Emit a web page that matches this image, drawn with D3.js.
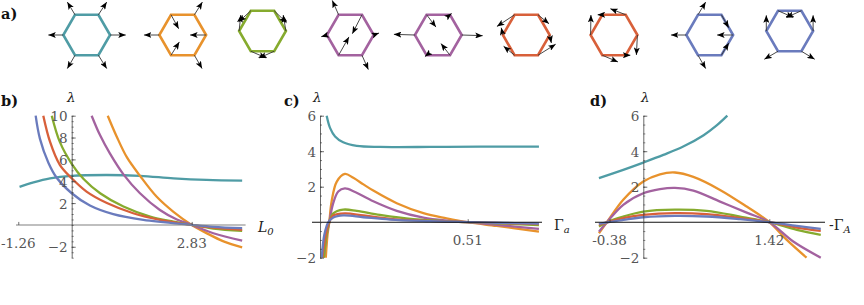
<!DOCTYPE html>
<html>
<head>
<meta charset="utf-8">
<script src="https://cdn.jsdelivr.net/npm/d3@7"></script>
<style>
  html, body { margin: 0; padding: 0; background: #fff; }
  text { font-family: "DejaVu Serif", serif; }
  .tick-label { font-size: 13.5px; fill: #555; }
  .panel-label { font-size: 14.5px; font-weight: bold; fill: #111; }
  .axis-label { font-size: 13.5px; fill: #222; font-style: italic; }
</style>
</head>
<body>
<svg id="chart" width="864" height="305"></svg>
<script>
const colors = {
  teal: "#4f9ca5", orange: "#e8922c", green: "#86ab2e",
  red: "#d8603a", purple: "#a3629f", blue: "#6a7bbd"
};

// hexagon modes: one [dx, dy] per corner, order E NE NW W SW SE
const hexColors = ["teal", "orange", "green", "purple", "purple", "red", "red", "blue", "blue"];
const hexCenterX = [86.7, 182.7, 262.5, 350.3, 438.3, 526.3, 614, 709.7, 789.7];
const hexCenterY = [35, 35, 31, 35, 35, 35, 35, 35, 31];
const hexVectors = [
  [[47, 0], [25, -38], [-23, -38], [-45, 0], [-23, 40], [25, 40]],
  [[-48, 0], [24, -38], [23, 42], [-46, 0], [25, -40], [23, 40]],
  [[-8, -48], [37, 36], [-36, 33], [5, -48], [46, 20], [-45, 20]],
  [[16, -6], [-29, 57], [-19, -43], [-17, 5], [31, -55], [19, 43]],
  [[63, 2], [5, -4], [28, 37], [-63, -2], [-5, 4], [-27, -35]],
  [[5, 24], [33, 27], [-53, 35], [-5, -22], [-33, -27], [53, -33]],
  [[-3, 60], [-46, -18], [-14, 0], [1, -60], [47, 20], [14, 0]],
  [[-48, 0], [22, 39], [23, -38], [-46, 0], [23, 40], [22, -37]],
  [[0, -47], [-45, 20], [46, 20], [0, -47], [-41, 24], [40, 24]]
];

// panel b, lambda vs L0
const bTicksY = [-2, 2, 4, 6, 8, 10];
const bTeal = [[-1.23, 3.48], [-0.9, 3.9], [-0.51, 4.27], [0, 4.5], [0.83, 4.57], [1.61, 4.5], [2.4, 4.27], [3.18, 4.12], [4.02, 4.05]];
const bOrange = [[0.85, 10], [1.06, 8.1], [1.3, 6.2], [1.61, 4.5], [2.0, 2.6], [2.4, 1.2], [2.83, 0], [3.18, -0.75], [3.58, -1.5], [4.02, -2.05]];
const bPurple = [[0.47, 10], [0.67, 8.2], [0.9, 6.55], [1.22, 4.63], [1.61, 2.9], [2.08, 1.37], [2.48, 0.5], [2.83, 0], [3.34, -0.76], [4.02, -1.43]];
const bGreen = [[-0.47, 10], [-0.28, 7.6], [0, 5.6], [0.28, 4.2], [0.67, 2.9], [1.22, 1.68], [1.85, 0.76], [2.4, 0.3], [2.83, 0], [3.34, -0.33], [4.02, -0.55]];
const bRed = [[-0.67, 10], [-0.51, 7.6], [-0.28, 5.5], [0, 4.27], [0.35, 3.05], [0.83, 2.0], [1.45, 1.07], [2.08, 0.46], [2.83, 0], [3.34, -0.25], [4.02, -0.45]];
const bBlue = [[-0.85, 10], [-0.75, 7.9], [-0.55, 5.7], [-0.35, 4.3], [0, 2.9], [0.43, 1.77], [0.98, 0.98], [1.69, 0.46], [2.83, 0], [3.34, -0.18], [4.02, -0.3]];

// panel c, lambda vs Gamma_a
const cTicksY = [-2, 2, 4, 6];
const cTeal = [[0.023, 6], [0.035, 5.3], [0.052, 4.83], [0.08, 4.5], [0.127, 4.3], [0.207, 4.24], [0.38, 4.24], [0.553, 4.26], [0.756, 4.26]];
const cOrange = [[0.02, -2], [0.026, -0.71], [0.032, 0], [0.04, 1.16], [0.058, 2.29], [0.086, 2.72], [0.115, 2.5], [0.15, 2.13], [0.184, 1.78], [0.265, 1.07], [0.357, 0.51], [0.437, 0.22], [0.51, 0], [0.61, -0.21], [0.756, -0.53]];
const cPurple = [[0.013, -2], [0.023, -0.71], [0.032, 0], [0.044, 0.98], [0.063, 1.73], [0.086, 1.9], [0.121, 1.7], [0.184, 1.18], [0.265, 0.64], [0.357, 0.26], [0.437, 0.09], [0.51, 0], [0.61, -0.15], [0.756, -0.38]];
const cGreen = [[0.013, -2], [0.023, -0.71], [0.032, 0], [0.046, 0.5], [0.08, 0.71], [0.127, 0.64], [0.207, 0.41], [0.322, 0.17], [0.51, 0], [0.61, -0.06], [0.756, -0.17]];
const cRed = [[0.008, -2], [0.02, -0.71], [0.031, 0], [0.046, 0.38], [0.086, 0.5], [0.15, 0.38], [0.242, 0.19], [0.38, 0.07], [0.51, 0], [0.61, -0.04], [0.756, -0.11]];
const cBlue = [[0.006, -2], [0.015, -0.71], [0.029, 0], [0.046, 0.26], [0.08, 0.38], [0.15, 0.28], [0.242, 0.15], [0.38, 0.06], [0.51, 0], [0.61, -0.03], [0.756, -0.08]];

// panel d, lambda vs -Gamma_A
const dTicksY = [-2, 2, 4, 6];
const dTeal = [[-0.5, 2.48], [-0.226, 2.95], [0, 3.36], [0.226, 3.79], [0.45, 4.26], [0.68, 4.9], [0.827, 5.45], [0.947, 6]];
const dOrange = [[-0.5, -0.62], [-0.41, 0], [-0.226, 1.26], [0, 2.29], [0.188, 2.7], [0.357, 2.8], [0.564, 2.55], [0.865, 1.82], [1.165, 0.88], [1.42, 0], [1.617, -1], [1.84, -2]];
const dPurple = [[-0.5, -0.53], [-0.41, 0], [-0.226, 0.98], [0, 1.63], [0.188, 1.86], [0.357, 1.93], [0.564, 1.78], [0.865, 1.16], [1.165, 0.54], [1.42, 0], [1.69, -1.09], [2, -2]];
const dGreen = [[-0.5, -0.24], [-0.39, 0.04], [-0.226, 0.32], [0, 0.6], [0.357, 0.71], [0.714, 0.64], [1.09, 0.32], [1.42, 0], [1.73, -0.43], [2, -0.71]];
const dRed = [[-0.5, -0.15], [-0.39, 0.02], [-0.226, 0.23], [0, 0.41], [0.357, 0.51], [0.714, 0.45], [1.09, 0.23], [1.42, 0], [1.73, -0.3], [2, -0.49]];
const dBlue = [[-0.5, -0.09], [-0.39, 0.01], [-0.226, 0.13], [0, 0.28], [0.357, 0.36], [0.714, 0.32], [1.09, 0.17], [1.42, 0], [1.73, -0.21], [2, -0.38]];

const svg = d3.select("#chart");

svg.append("defs").append("marker")
  .attr("id", "head")
  .attr("viewBox", "0 0 10 8")
  .attr("refX", 10).attr("refY", 4)
  .attr("markerUnits", "userSpaceOnUse")
  .attr("markerWidth", 7.5).attr("markerHeight", 6)
  .attr("orient", "auto")
  .append("path")
  .attr("d", "M0,0L10,4L0,8L2.2,4Z")
  .attr("fill", "#000");

// --- panel a: hexagons ---
const cornerAngles = [0, 60, 120, 180, 240, 300];
const hexR = d3.scaleLinear().domain([0, 1]).range([0, 23.4]);
const arrowLen = d3.scaleLinear().domain([0, 3]).range([0, 1]); // vectors were read at 3x

hexVectors.forEach(function(vecs, i) {
  const g = svg.append("g")
    .attr("transform", "translate(" + hexCenterX[i] + "," + hexCenterY[i] + ")");
  const corners = cornerAngles.map(function(a) {
    return [hexR(Math.cos(a * Math.PI / 180)), -hexR(Math.sin(a * Math.PI / 180))];
  });
  g.append("path")
    .attr("d", d3.line().curve(d3.curveLinearClosed)(corners))
    .attr("fill", "none")
    .attr("stroke", colors[hexColors[i]])
    .attr("stroke-width", 2.6)
    .attr("stroke-linejoin", "miter");
  g.selectAll("line.arrow")
    .data(vecs)
    .enter()
    .append("line")
    .attr("class", "arrow")
    .attr("x1", function(d, k) { return corners[k][0]; })
    .attr("y1", function(d, k) { return corners[k][1]; })
    .attr("x2", function(d, k) { return corners[k][0] + arrowLen(d[0]); })
    .attr("y2", function(d, k) { return corners[k][1] + arrowLen(d[1]); })
    .attr("stroke", "#333")
    .attr("stroke-width", 0.9)
    .attr("marker-end", "url(#head)");
});

// --- line panels ---
function drawPanel(opts) {
  const x = d3.scaleLinear().domain(opts.xDomain).range(opts.xRange);
  const y = d3.scaleLinear().domain(opts.yDomain).range(opts.yRange);
  const g = svg.append("g");
  const line = d3.line()
    .x(function(d) { return x(d[0]); })
    .y(function(d) { return y(d[1]); })
    .curve(d3.curveCatmullRom.alpha(0.5));

  // order matters, blue ends up on top like the original
  opts.series.forEach(function(s) {
    g.append("path")
      .attr("d", line(s.values))
      .attr("fill", "none")
      .attr("stroke", colors[s.color])
      .attr("stroke-width", 2.3);
  });

  // x axis
  const xAxis = g.append("g")
    .attr("transform", "translate(0," + y(0) + ")")
    .call(d3.axisTop(x)
      .tickValues(opts.xTicks)
      .tickSize(3)
      .tickSizeOuter(0)
      .tickFormat(""));
  xAxis.select(".domain")
    .attr("d", "M" + opts.xLine[0] + ",0H" + opts.xLine[1])
    .attr("stroke", opts.xAxisColor).attr("stroke-width", 1.1);
  xAxis.selectAll(".tick line").attr("stroke", "#333").attr("stroke-width", 0.7);

  g.selectAll("text.xtick")
    .data(opts.xTicks)
    .enter()
    .append("text")
    .attr("class", "tick-label xtick")
    .attr("x", function(d) { return x(d); })
    .attr("y", y(0) + 23)
    .attr("text-anchor", "middle")
    .text(function(d) { return d; });

  // y axis, major ticks then minor ones
  const yAxis = g.append("g")
    .attr("transform", "translate(" + x(0) + ",0)")
    .call(d3.axisRight(y)
      .tickValues(opts.yTicks)
      .tickSize(4)
      .tickSizeOuter(0)
      .tickFormat(d3.format("d")));
  yAxis.select(".domain").attr("stroke", "#444").attr("stroke-width", 0.8);
  yAxis.selectAll(".tick line").attr("stroke", "#333").attr("stroke-width", 0.7);
  yAxis.selectAll(".tick text")
    .attr("class", "tick-label")
    .attr("x", -4)
    .attr("dy", "0.38em")
    .attr("text-anchor", "end")
    .style("font-family", '"DejaVu Serif", serif')
    .style("font-size", "13.5px");

  const minor = d3.range(opts.yDomain[0], opts.yDomain[1] + 0.01, 0.5);
  g.append("g")
    .attr("transform", "translate(" + x(0) + ",0)")
    .call(d3.axisRight(y).tickValues(minor).tickSize(2).tickSizeOuter(0).tickFormat(""))
    .call(function(a) {
      a.select(".domain").remove();
      a.selectAll(".tick line").attr("stroke", "#333").attr("stroke-width", 0.6);
    });

  svg.append("text").attr("class", "panel-label")
    .attr("x", opts.labelPos[0]).attr("y", opts.labelPos[1]).text(opts.label);
  svg.append("text").attr("class", "axis-label")
    .attr("x", opts.lambdaPos[0]).attr("y", opts.lambdaPos[1]).text("λ");

  const xl = svg.append("text").attr("class", "axis-label")
    .attr("x", opts.xLabelPos[0]).attr("y", opts.xLabelPos[1])
    .style("font-style", "normal");
  opts.xLabel.forEach(function(p) {
    xl.append("tspan")
      .attr("dy", p.sub ? 3 : 0)
      .style("font-size", p.sub ? "10px" : "14px")
      .style("font-style", p.it ? "italic" : "normal")
      .text(p.t);
  });
}

drawPanel({
  xDomain: [0, 2.83], xRange: [71.7, 191.7],
  yDomain: [-3, 10], yRange: [257.7, 115.7],
  xTicks: [-1.26, 2.83], xLine: [16, 245.6], xAxisColor: "#808080",
  yTicks: bTicksY,
  label: "b)", labelPos: [1, 106], lambdaPos: [67, 102],
  xLabel: [{ t: "L", it: true }, { t: "0", it: true, sub: true }], xLabelPos: [258, 232],
  series: [
    { color: "teal", values: bTeal }, { color: "orange", values: bOrange },
    { color: "purple", values: bPurple }, { color: "green", values: bGreen },
    { color: "red", values: bRed }, { color: "blue", values: bBlue }
  ]
});

drawPanel({
  xDomain: [0, 0.51], xRange: [320, 467.7],
  yDomain: [-2, 6], yRange: [257.7, 115.7],
  xTicks: [0.51], xLine: [312, 542], xAxisColor: "#111",
  yTicks: cTicksY,
  label: "c)", labelPos: [284, 106], lambdaPos: [313, 102],
  xLabel: [{ t: "Γ" }, { t: "a", it: true, sub: true }], xLabelPos: [554, 230],
  series: [
    { color: "teal", values: cTeal }, { color: "orange", values: cOrange },
    { color: "purple", values: cPurple }, { color: "green", values: cGreen },
    { color: "red", values: cRed }, { color: "blue", values: cBlue }
  ]
});

drawPanel({
  xDomain: [0, 1.42], xRange: [643.3, 769.3],
  yDomain: [-2, 6], yRange: [257.7, 115.7],
  xTicks: [-0.38, 1.42], xLine: [595, 825], xAxisColor: "#111",
  yTicks: dTicksY,
  label: "d)", labelPos: [590, 106], lambdaPos: [641, 102],
  xLabel: [{ t: "-Γ" }, { t: "A", it: true, sub: true }], xLabelPos: [829, 230],
  series: [
    { color: "teal", values: dTeal }, { color: "orange", values: dOrange },
    { color: "purple", values: dPurple }, { color: "green", values: dGreen },
    { color: "red", values: dRed }, { color: "blue", values: dBlue }
  ]
});

svg.append("text").attr("class", "panel-label")
  .attr("x", 1).attr("y", 19).text("a)");
</script>
</body>
</html>
